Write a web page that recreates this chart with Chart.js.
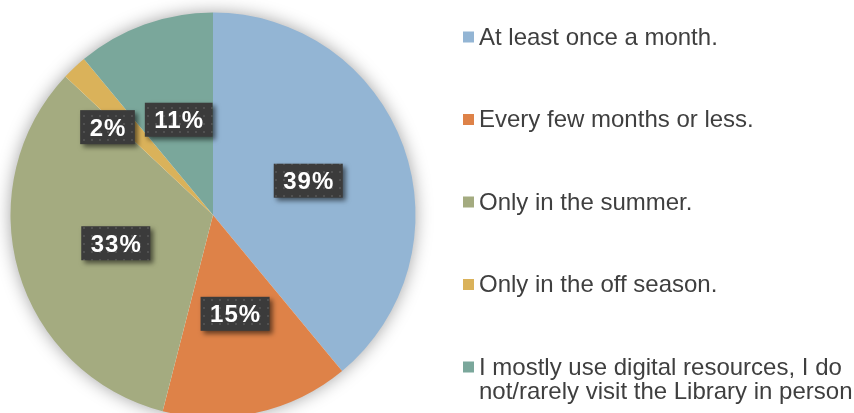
<!DOCTYPE html>
<html>
<head>
<meta charset="utf-8">
<script src="https://cdn.jsdelivr.net/npm/chart.js@4.4.1/dist/chart.umd.min.js"></script>
<style>
  html, body { margin: 0; padding: 0; background: #fff; overflow: hidden; }
  #wrap { width: 854px; height: 430px; }
</style>
</head>
<body>
<div id="wrap"><canvas id="visitChart" width="854" height="430"></canvas></div>
<script>
// How often people visit the Library
const categories = [
  "At least once a month.",
  "Every few months or less.",
  "Only in the summer.",
  "Only in the off season.",
  "I mostly use digital resources, I do not/rarely visit the Library in person"
];
const percentValues = [39, 15, 33, 2, 11];
const sliceColors = ["#93b5d4", "#de8248", "#a4ab80", "#dab25a", "#7aa79b"];

const FONT = 'Helvetica, Arial, "Liberation Sans", sans-serif';

// dotted dark fill for the value boxes
function makeDotPattern(ctx){
  const p = document.createElement("canvas");
  p.width = 8; p.height = 8;
  const pc = p.getContext("2d");
  pc.fillStyle = "#3b3b3b";
  pc.fillRect(0, 0, 8, 8);
  pc.fillStyle = "#505050";
  pc.fillRect(3, 3, 2, 2);
  return ctx.createPattern(p, "repeat");
}

const pieShadow = {
  id: "pieShadow",
  beforeDatasetsDraw(chart){
    const arc = chart.getDatasetMeta(0).data[0];
    if(!arc) return;
    const ctx = chart.ctx;
    ctx.save();
    ctx.shadowColor = "rgba(0,0,0,0.4)";
    ctx.shadowBlur = 18;
    ctx.fillStyle = "#ffffff";
    ctx.beginPath();
    ctx.arc(arc.x, arc.y, arc.outerRadius - 1, 0, Math.PI * 2);
    ctx.fill();
    ctx.restore();
  }
};

const valueBoxes = {
  id: "valueBoxes",
  afterDatasetsDraw(chart){
    const ctx = chart.ctx;
    const arcs = chart.getDatasetMeta(0).data;
    const size = 24;
    ctx.save();
    ctx.font = "bold " + size + "px " + FONT;
    ctx.letterSpacing = "1px";

    const boxes = arcs.map((arc, i) => {
      const text = percentValues[i] + "%";
      const mid = (arc.startAngle + arc.endAngle) / 2;
      const r = percentValues[i] < 5 ? arc.outerRadius * 0.69 : arc.outerRadius * 0.5;
      const w = ctx.measureText(text).width + 18;
      const h = 34;
      const cx = arc.x + Math.cos(mid) * r;
      const cy = arc.y + Math.sin(mid) * r;
      return {text, x: cx - w / 2, y: cy - h / 2, w, h};
    });

    // push small labels sideways off their neighbours
    boxes.forEach((b, i) => {
      if(percentValues[i] >= 5) return;
      boxes.forEach((o, j) => {
        if(j === i) return;
        const ox = Math.min(b.x + b.w, o.x + o.w) - Math.max(b.x, o.x);
        const oy = Math.min(b.y + b.h, o.y + o.h) - Math.max(b.y, o.y);
        if(ox > -10 && oy > 0){
          if(b.x + b.w / 2 < o.x + o.w / 2) b.x = o.x - b.w - 10;
          else b.x = o.x + o.w + 10;
          b.y += 14;
        }
      });
    });

    const pattern = makeDotPattern(ctx);
    boxes.forEach(b => {
      ctx.save();
      ctx.shadowColor = "rgba(0,0,0,0.55)";
      ctx.shadowBlur = 5;
      ctx.shadowOffsetX = 3;
      ctx.shadowOffsetY = 3;
      ctx.fillStyle = pattern;
      ctx.fillRect(b.x, b.y, b.w, b.h);
      ctx.restore();

      ctx.fillStyle = "#ffffff";
      ctx.textAlign = "center";
      ctx.textBaseline = "alphabetic";
      ctx.fillText(b.text, b.x + b.w / 2 + 0.5, b.y + b.h / 2 + size * 0.36);
    });
    ctx.restore();
  }
};

const sideLegend = {
  id: "sideLegend",
  afterDraw(chart){
    const ctx = chart.ctx;
    const left = 463, textX = 479, top = 37, step = 82.5, maxW = 378, lineH = 24;
    ctx.save();
    ctx.font = "24px " + FONT;
    ctx.textBaseline = "middle";
    ctx.textAlign = "left";
    categories.forEach((label, i) => {
      const y = top + i * step;
      ctx.fillStyle = sliceColors[i];
      ctx.fillRect(left, y - 5.5, 11, 11);

      // wrap long labels word by word
      const lines = [];
      let line = "";
      label.split(" ").forEach(word => {
        const test = line ? line + " " + word : word;
        if(ctx.measureText(test).width > maxW && line){
          lines.push(line);
          line = word;
        } else {
          line = test;
        }
      });
      lines.push(line);

      ctx.fillStyle = "#3f3f3f";
      lines.forEach((t, k) => ctx.fillText(t, textX, y + 1 + k * lineH));
    });
    ctx.restore();
  }
};

new Chart(document.getElementById("visitChart"), {
  type: "pie",
  data: {
    labels: categories,
    datasets: [{
      data: percentValues,
      backgroundColor: sliceColors,
      borderWidth: 0
    }]
  },
  options: {
    responsive: false,
    animation: false,
    events: [],
    layout: {
      padding: {left: 10.5, top: 12.5, right: 438.5, bottom: 12.5}
    },
    plugins: {
      legend: {display: false},
      tooltip: {enabled: false}
    }
  },
  plugins: [pieShadow, valueBoxes, sideLegend]
});
</script>
</body>
</html>
